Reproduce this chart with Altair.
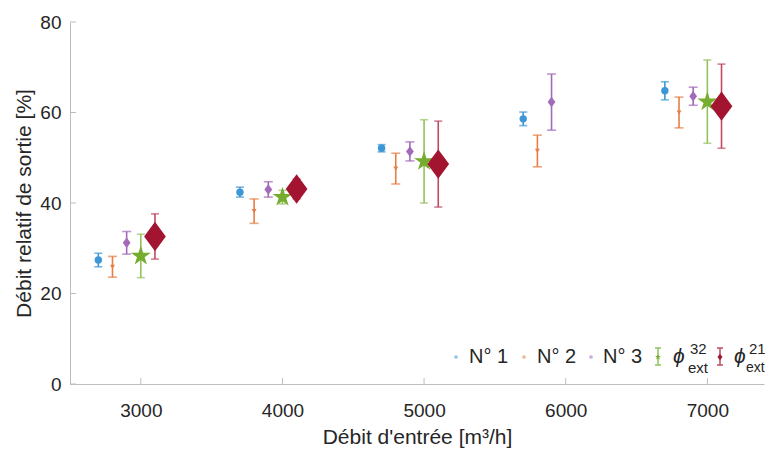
import altair as alt
import pandas as pd

# ---------------- data ----------------
x_n1 = [2700, 3700, 4700, 5700, 6700]
y_n1 = [27.4, 42.4, 52.1, 58.6, 64.8]
e_n1 = [1.5, 1.1, 0.8, 1.5, 2.0]

x_n2 = [2800, 3800, 4800, 5800, 6800]
y_n2 = [25.9, 38.2, 47.6, 51.5, 60.0]
e_n2 = [2.3, 2.7, 3.4, 3.5, 3.4]

x_n3 = [2900, 3900, 4900, 5900, 6900]
y_n3 = [31.2, 43.0, 51.4, 62.3, 63.6]
e_n3 = [2.5, 1.7, 2.1, 6.2, 2.0]

x_p32 = [3000, 4000, 5000, 7000]
y_p32 = [28.3, 41.3, 49.2, 62.4]
e_p32 = [4.8, 1.5, 9.2, 9.2]

x_p21 = [3100, 4100, 5100, 7100]
y_p21 = [32.6, 43.1, 48.6, 61.4]
e_p21 = [5.0, 2.2, 9.5, 9.3]

x_ticks = [3000, 4000, 5000, 6000, 7000]
y_ticks = [0, 20, 40, 60, 80]

legend_labels = ["N° 1", "N° 2", "N° 3"]

# ---------------- style ----------------
FONT = "Liberation Sans"
TXT = "#262626"
AX = "#bdbdbd"
W, H = 694, 362

STAR = ("M0,-1 L0.2245,-0.309 L0.951,-0.309 L0.363,0.118 L0.588,0.809 "
        "L0,0.382 L-0.588,0.809 L-0.363,0.118 L-0.951,-0.309 L-0.2245,-0.309 Z")
DIAM = "M0,-1 L0.74,0 L0,1 L-0.74,0 Z"

xscale = alt.Scale(domain=[2500, 7400], nice=False, zero=False)
yscale = alt.Scale(domain=[0, 80], nice=False, zero=True)

X = alt.X("x:Q", scale=xscale,
          axis=alt.Axis(values=x_ticks, format="d", title="Débit d'entrée [m³/h]",
                        labelPadding=17, titlePadding=6))
Y = alt.Y("y:Q", scale=yscale,
          axis=alt.Axis(values=y_ticks, title="Débit relatif de sortie [%]",
                        labelPadding=9, titlePadding=5))


def series(xs, ys, es, color, bar_color, shape, size, cap):
    df = pd.DataFrame({"x": xs, "y": ys,
                       "lo": [a - b for a, b in zip(ys, es)],
                       "hi": [a + b for a, b in zip(ys, es)]})
    base = alt.Chart(df)
    bar = base.mark_rule(color=bar_color, strokeWidth=1.6).encode(
        x=X, y=alt.Y("lo:Q", scale=yscale), y2="hi:Q")
    c1 = base.mark_tick(orient="horizontal", color=bar_color, size=cap, thickness=1.6).encode(
        x=X, y=alt.Y("lo:Q", scale=yscale))
    c2 = base.mark_tick(orient="horizontal", color=bar_color, size=cap, thickness=1.6).encode(
        x=X, y=alt.Y("hi:Q", scale=yscale))
    pt = base.mark_point(shape=shape, size=size, filled=True, color=color,
                         opacity=1, strokeWidth=0).encode(x=X, y=Y)
    return [bar, c1, c2, pt]


layers = []
layers += series(x_n1, y_n1, e_n1, "#3d97d6", "#3d97d6", "circle", 55, 8)
layers += series(x_n2, y_n2, e_n2, "#e67e45", "#e67e45", "triangle-down", 24, 9)
layers += series(x_n3, y_n3, e_n3, "#a36ab9", "#a36ab9", DIAM, 110, 9)
layers += series(x_p32, y_p32, e_p32, "#76ad2f", "#93c15e", STAR, 440, 8)
layers += series(x_p21, y_p21, e_p21, "#a2142f", "#c04a63", DIAM, 860, 8)

# inward ticks
xt = alt.Chart(pd.DataFrame({"x": x_ticks})).mark_rule(color=AX, strokeWidth=1).encode(
    x=alt.X("x:Q", scale=xscale), y=alt.value(H), y2=alt.value(H - 6))
yt = alt.Chart(pd.DataFrame({"y": y_ticks})).mark_rule(color=AX, strokeWidth=1).encode(
    y=alt.Y("y:Q", scale=yscale), x=alt.value(0), x2=alt.value(6))
layers = [xt, yt] + layers

# ---------------- manual legend ----------------
one = pd.DataFrame({"k": [0]})
LY = 335


def txt(t, x, y, size=20, style="normal"):
    return alt.Chart(one).mark_text(text=t, align="left", baseline="middle", font=FONT,
                                    fontSize=size, fontStyle=style, color=TXT).encode(
        x=alt.value(x), y=alt.value(y))


def dot(x, color):
    return alt.Chart(one).mark_point(shape="circle", filled=True, size=14, color=color,
                                     opacity=0.55).encode(x=alt.value(x), y=alt.value(LY))


def ebar_icon(x, color, bar_color, shape, size):
    r = alt.Chart(one).mark_rule(color=bar_color, strokeWidth=1.5).encode(
        x=alt.value(x), y=alt.value(LY - 9), y2=alt.value(LY + 8))
    t1 = alt.Chart(one).mark_rule(color=bar_color, strokeWidth=1.5).encode(
        x=alt.value(x - 3), x2=alt.value(x + 3), y=alt.value(LY - 9))
    t2 = alt.Chart(one).mark_rule(color=bar_color, strokeWidth=1.5).encode(
        x=alt.value(x - 3), x2=alt.value(x + 3), y=alt.value(LY + 8))
    p = alt.Chart(one).mark_point(shape=shape, filled=True, size=size, color=color,
                                  opacity=1).encode(x=alt.value(x), y=alt.value(LY))
    return [r, t1, t2, p]


leg = []
leg += [dot(386, "#3d97d6"), txt(legend_labels[0], 399, LY)]
leg += [dot(454, "#e67e45"), txt(legend_labels[1], 467, LY)]
leg += [dot(521, "#a36ab9"), txt(legend_labels[2], 533, LY)]
leg += ebar_icon(588, "#76ad2f", "#93c15e", STAR, 40)
leg += [txt("ϕ", 603, LY, 21, "italic"), txt("32", 620, LY - 8, 15), txt("ext", 618, LY + 11, 15)]
leg += ebar_icon(650, "#a2142f", "#c04a63", DIAM, 45)
leg += [txt("ϕ", 664, LY, 21, "italic"), txt("21", 679, LY - 8, 15), txt("ext", 676, LY + 11, 14)]

chart = alt.layer(*(layers + leg)).properties(
    width=W, height=H,
    autosize=alt.AutoSizeParams(type="none"),
    padding={"left": 62, "top": 14, "right": 1, "bottom": 68},
).configure_view(stroke=None).configure_axis(
    domainColor=AX, domainWidth=1, ticks=False, grid=False,
    labelFont=FONT, labelFontSize=19, labelColor=TXT,
    titleFont=FONT, titleFontSize=21, titleFontWeight="normal", titleColor=TXT,
)

chart.save("out.html", embed_options={"renderer": "svg", "actions": False})
